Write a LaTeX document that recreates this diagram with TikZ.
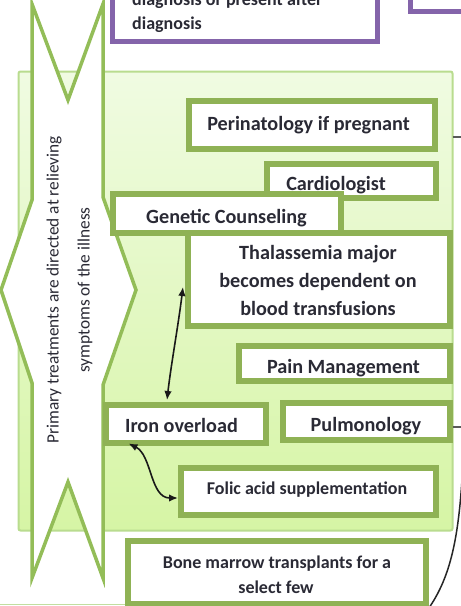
\documentclass[tikz,border=0pt]{standalone}
\usepackage{fontspec}
\setmainfont{Carlito}
\usetikzlibrary{arrows.meta,calc}
\definecolor{boxgreen}{HTML}{8FB255}
\definecolor{arrowgreen}{HTML}{93BD58}
\definecolor{panelline}{HTML}{B9DC8F}
\definecolor{paneltop}{HTML}{F0FBE2}
\definecolor{panelbot}{HTML}{D6F5A5}
\definecolor{purp}{HTML}{8464AA}
\definecolor{txtc}{HTML}{2A2A35}
\definecolor{connc}{HTML}{5A5A5A}
\definecolor{lowline}{HTML}{C2DEA0}
\begin{document}
\begin{tikzpicture}[x=1pt,y=-1pt,
  box/.style={draw=boxgreen, line width=6pt, fill=white, inner sep=0pt, outer sep=0pt},
  boxline/.style={draw=boxgreen, line width=6pt},
  pbox/.style={draw=purp, line width=5pt, fill=white, inner sep=0pt, outer sep=0pt},
  txt/.style={text=txtc, inner sep=0pt, anchor=base, font=\fontsize{20.2}{24}\selectfont\bfseries},
  stxt/.style={txt, font=\fontsize{18}{22}\selectfont\bfseries},
  conn/.style={draw=connc, line width=1.5pt},
  dbl/.style={draw=black!90, line width=1.6pt, {Latex[length=9pt,width=7.5pt]}-{Latex[length=9pt,width=7.5pt]}}
]
\useasboundingbox (0,0) rectangle (461,606);
\clip (0,0) rectangle (461,606);

% purple boxes at the top
\node[pbox, minimum width=265pt, minimum height=61.5pt] (pur1) at (245,10.75) {};
\node[pbox, minimum width=69.5pt, minimum height=31pt] (pur2) at (445.25,-4.5) {};
\node[stxt, anchor=base west] (pur1a) at (132,5.5) {diagnosis or present after};
\node[stxt, anchor=base west] (pur1b) at (132,29.3) {diagnosis};

% green panel
\node[draw=panelline, line width=2pt, top color=paneltop, bottom color=panelbot,
      rounded corners=2pt, inner sep=0pt, outer sep=0pt,
      minimum width=434pt, minimum height=459pt] (panel) at (235.5,301) {};

% low line at the bottom
\coordinate (low1) at (0,604.5);
\coordinate (low2) at (130,604.5);
\draw[draw=lowline, line width=1.5pt] (low1) -- (low2);

% big double notched arrow
\draw[draw=arrowgreen, line width=3.5pt, fill=white, line join=miter]
  (32,4) -- (32,200) -- (1,290) -- (32,383) -- (32,578) -- (68,482) -- (103,578)
  -- (103,385) -- (136,290) -- (103,197) -- (103,4) -- (68,100) -- cycle;
\node[rotate=90, align=center, text=txtc, inner sep=0pt,
      font=\fontsize{17.3}{31}\selectfont] (arrowtxt) at (69.5,290)
  {Primary treatments are directed at relieving\\symptoms of the illness};

% boxes
\node[box, minimum width=246pt, minimum height=48pt] (peri) at (311.5,124.5) {};
\node[txt] (peritxt) at (308.5,130) {Perinatology if pregnant};

\node[box, minimum width=169pt, minimum height=34pt] (card) at (351,180.5) {};
\node[txt] (cardtxt) at (336,190) {Cardiologist};
\draw[boxline] (card.south west) rectangle (card.north east);

\node[box, minimum width=262pt, minimum height=93pt] (thal) at (318.5,279) {};
\node[txt] (thal1) at (318,259) {Thalassemia major};
\node[txt] (thal2) at (318,287) {becomes dependent on};
\node[txt] (thal3) at (318,315) {blood transfusions};

\node[box, minimum width=228pt, minimum height=39pt] (gen) at (226.5,213) {};
\node[txt] (gentxt) at (226.5,223) {Genetic Counseling};

\node[box, minimum width=211pt, minimum height=35pt] (pain) at (344,363) {};
\node[txt] (paintxt) at (343.5,373) {Pain Management};
\draw[boxline] (pain.south west) rectangle (pain.north east);

\node[box, minimum width=160pt, minimum height=38pt] (iron) at (185.5,423.5) {};
\node[txt] (irontxt) at (181.5,432) {Iron overload};

\node[box, minimum width=167pt, minimum height=37pt] (pulm) at (366,421) {};
\node[txt] (pulmtxt) at (366,431) {Pulmonology};
\draw[boxline] (pulm.south west) rectangle (pulm.north east);

\node[box, minimum width=255pt, minimum height=47pt] (folic) at (308,491) {};
\node[stxt] (folictxt) at (307,494.5) {Folic acid supplementation};

\node[box, minimum width=298pt, minimum height=63pt] (bone) at (276.5,572) {};
\node[stxt] (bone1) at (277,568) {Bone marrow transplants for a};
\node[stxt] (bone2) at (276,593) {select few};

% connectors
\draw[dbl] ([xshift=-4.5pt,yshift=-8pt]thal.west) .. controls +(-5,40) and +(4,-35) .. ([xshift=-18.5pt,yshift=4.5pt]iron.north);
\draw[dbl] ([xshift=-57pt,yshift=-1pt]iron.south) .. controls +(23.5,11.5) and +(-28,0) .. ([xshift=-2.5pt,yshift=-7pt]folic.west);

\coordinate (r1) at (463,137);
\coordinate (r2) at (463,427);
\draw[conn] (r1 -| panel.east) -- (r1);
\draw[conn] (r2 -| panel.east) -- (r2);

\coordinate (arcA) at (462,480);
\coordinate (arcB) at (426,612);
\draw[draw=black!85, line width=1.5pt] (arcA) .. controls (458,540) and (450,580) .. (arcB);
\end{tikzpicture}
\end{document}
